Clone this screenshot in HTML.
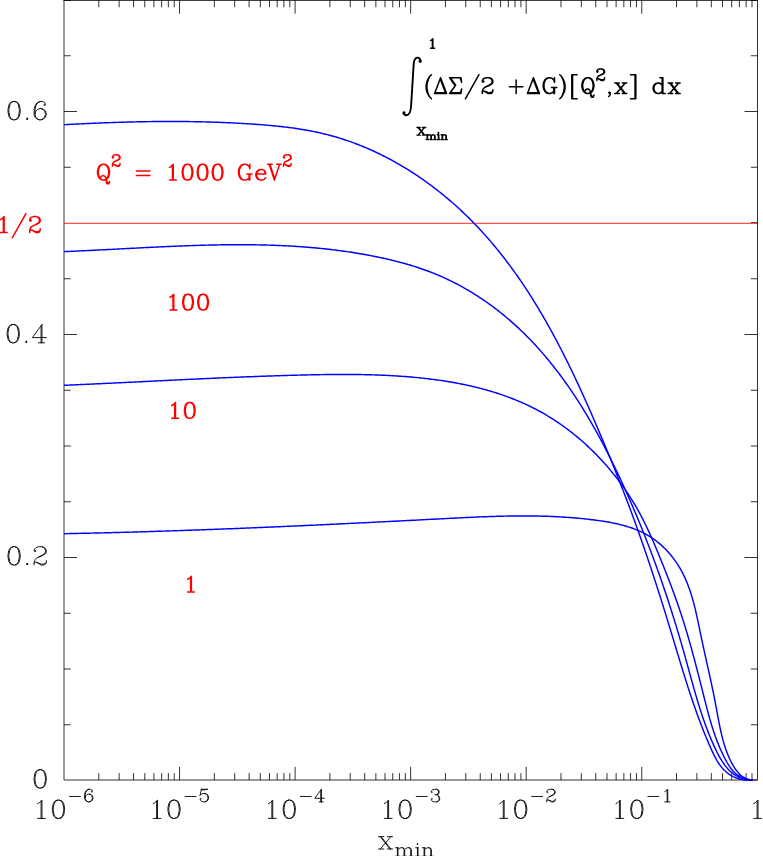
<!DOCTYPE html>
<html><head><meta charset="utf-8"><title>plot</title>
<style>html,body{margin:0;padding:0;background:#fff;font-family:"Liberation Sans",sans-serif}svg{display:block}</style>
</head><body><svg width="763" height="856" viewBox="0 0 763 856">
<rect width="763" height="856" fill="#fff"/>
<path d="M64 0.45V780H757.5V0.45M64 0.45H757.5" fill="none" stroke="#000" stroke-width="0.8" stroke-linecap="square"/>
<path d="M98.78 780v-6.9M98.78 0.45v6.9M119.13 780v-6.9M119.13 0.45v6.9M133.57 780v-6.9M133.57 0.45v6.9M144.77 780v-6.9M144.77 0.45v6.9M153.92 780v-6.9M153.92 0.45v6.9M161.65 780v-6.9M161.65 0.45v6.9M168.35 780v-6.9M168.35 0.45v6.9M174.26 780v-6.9M174.26 0.45v6.9M179.55 780v-13.2M179.55 0.45v13.2M214.33 780v-6.9M214.33 0.45v6.9M234.68 780v-6.9M234.68 0.45v6.9M249.12 780v-6.9M249.12 0.45v6.9M260.32 780v-6.9M260.32 0.45v6.9M269.47 780v-6.9M269.47 0.45v6.9M277.2 780v-6.9M277.2 0.45v6.9M283.9 780v-6.9M283.9 0.45v6.9M289.81 780v-6.9M289.81 0.45v6.9M295.1 780v-13.2M295.1 0.45v13.2M329.88 780v-6.9M329.88 0.45v6.9M350.23 780v-6.9M350.23 0.45v6.9M364.67 780v-6.9M364.67 0.45v6.9M375.87 780v-6.9M375.87 0.45v6.9M385.02 780v-6.9M385.02 0.45v6.9M392.75 780v-6.9M392.75 0.45v6.9M399.45 780v-6.9M399.45 0.45v6.9M405.36 780v-6.9M405.36 0.45v6.9M410.65 780v-13.2M410.65 0.45v13.2M445.43 780v-6.9M445.43 0.45v6.9M465.78 780v-6.9M465.78 0.45v6.9M480.22 780v-6.9M480.22 0.45v6.9M491.42 780v-6.9M491.42 0.45v6.9M500.57 780v-6.9M500.57 0.45v6.9M508.3 780v-6.9M508.3 0.45v6.9M515 780v-6.9M515 0.45v6.9M520.91 780v-6.9M520.91 0.45v6.9M526.2 780v-13.2M526.2 0.45v13.2M560.98 780v-6.9M560.98 0.45v6.9M581.33 780v-6.9M581.33 0.45v6.9M595.77 780v-6.9M595.77 0.45v6.9M606.97 780v-6.9M606.97 0.45v6.9M616.12 780v-6.9M616.12 0.45v6.9M623.85 780v-6.9M623.85 0.45v6.9M630.55 780v-6.9M630.55 0.45v6.9M636.46 780v-6.9M636.46 0.45v6.9M641.75 780v-13.2M641.75 0.45v13.2M676.53 780v-6.9M676.53 0.45v6.9M696.88 780v-6.9M696.88 0.45v6.9M711.32 780v-6.9M711.32 0.45v6.9M722.52 780v-6.9M722.52 0.45v6.9M731.67 780v-6.9M731.67 0.45v6.9M739.4 780v-6.9M739.4 0.45v6.9M746.1 780v-6.9M746.1 0.45v6.9M752.01 780v-6.9M752.01 0.45v6.9M757.5 780h-13M64 724.75h6.7M757.5 724.75h-6.7M64 669h6.7M757.5 669h-6.7M64 613.25h6.7M757.5 613.25h-6.7M64 557.5h13M757.5 557.5h-13M64 501.75h6.7M757.5 501.75h-6.7M64 446h6.7M757.5 446h-6.7M64 390.25h6.7M757.5 390.25h-6.7M64 334.5h13M757.5 334.5h-13M64 278.75h6.7M757.5 278.75h-6.7M757.5 222.65h-6.7M64 167.25h6.7M757.5 167.25h-6.7M64 111.5h13M757.5 111.5h-13M64 55.75h6.7M757.5 55.75h-6.7M64 0.45h6.7M757.5 0.45h-6.7" fill="none" stroke="#000" stroke-width="0.8"/>
<path d="M64 223.3H757.5" stroke="#f00" stroke-width="0.85" fill="none"/>
<path d="M64 124.7 65.51 124.62 67.03 124.54 68.54 124.46 70.06 124.38 71.57 124.3 73.08 124.23 74.59 124.15 76.1 124.08 77.61 124 79.12 123.93 80.63 123.86 82.14 123.78 83.64 123.71 85.15 123.64 86.66 123.57 88.16 123.51 89.67 123.44 91.17 123.37 92.68 123.31 94.18 123.24 95.68 123.18 97.19 123.12 98.69 123.05 100.19 122.99 101.69 122.93 103.19 122.87 104.69 122.82 106.19 122.76 107.69 122.71 109.19 122.65 110.69 122.6 112.19 122.55 113.68 122.49 115.18 122.44 116.68 122.39 118.17 122.35 119.67 122.3 121.17 122.26 122.66 122.21 124.16 122.17 125.65 122.13 127.15 122.08 128.64 122.05 130.13 122.01 131.63 121.97 133.12 121.93 134.62 121.9 136.11 121.87 137.6 121.83 139.09 121.8 140.59 121.77 142.08 121.75 143.57 121.72 145.06 121.69 146.55 121.67 148.05 121.65 149.54 121.63 151.03 121.61 152.52 121.59 154.01 121.57 155.5 121.55 156.99 121.54 158.48 121.53 159.97 121.51 161.46 121.5 162.96 121.5 164.45 121.49 165.94 121.48 167.43 121.48 168.92 121.48 170.41 121.48 171.9 121.48 173.39 121.48 174.88 121.48 176.37 121.49 177.86 121.49 179.35 121.5 180.84 121.51 182.33 121.52 183.82 121.54 185.32 121.55 186.81 121.57 188.3 121.59 189.79 121.61 191.28 121.63 192.77 121.65 194.27 121.68 195.76 121.7 197.25 121.73 198.74 121.76 200.24 121.79 201.73 121.83 203.22 121.86 204.72 121.9 206.21 121.94 207.7 121.98 209.2 122.02 210.69 122.06 212.19 122.11 213.68 122.16 215.18 122.21 216.67 122.26 218.17 122.31 219.66 122.37 221.16 122.43 222.66 122.49 224.16 122.55 225.65 122.61 227.15 122.68 228.65 122.74 230.15 122.81 231.65 122.88 233.15 122.96 234.65 123.03 236.15 123.11 237.65 123.19 239.15 123.27 240.66 123.35 242.16 123.44 243.66 123.52 245.17 123.61 246.67 123.71 248.17 123.8 249.68 123.9 251.19 123.99 252.69 124.09 254.2 124.2 255.71 124.3 257.21 124.41 258.72 124.52 260.23 124.63 261.74 124.75 263.25 124.87 264.75 124.99 266.26 125.12 267.77 125.25 269.28 125.38 270.79 125.52 272.29 125.66 273.8 125.8 275.31 125.95 276.81 126.1 278.32 126.26 279.82 126.42 281.33 126.59 282.83 126.76 284.34 126.93 285.84 127.11 287.34 127.3 288.84 127.49 290.34 127.69 291.84 127.89 293.33 128.09 294.83 128.31 296.32 128.53 297.82 128.75 299.31 128.98 300.8 129.22 302.29 129.46 303.77 129.71 305.26 129.97 306.74 130.23 308.23 130.5 309.71 130.77 311.19 131.06 312.66 131.35 314.14 131.64 315.61 131.95 317.08 132.26 318.55 132.58 320.01 132.91 321.48 133.25 322.94 133.59 324.4 133.94 325.85 134.3 327.31 134.67 328.76 135.05 330.21 135.43 331.65 135.82 333.1 136.22 334.54 136.63 335.98 137.05 337.41 137.48 338.85 137.91 340.28 138.35 341.7 138.8 343.13 139.26 344.55 139.72 345.97 140.19 347.39 140.67 348.8 141.16 350.21 141.66 351.62 142.16 353.03 142.67 354.43 143.19 355.83 143.71 357.23 144.25 358.62 144.79 360.01 145.34 361.4 145.89 362.79 146.46 364.17 147.03 365.55 147.6 366.92 148.19 368.3 148.78 369.67 149.38 371.04 149.99 372.4 150.6 373.76 151.22 375.12 151.85 376.47 152.48 377.82 153.12 379.17 153.77 380.52 154.42 381.86 155.09 383.2 155.75 384.54 156.43 385.87 157.11 387.2 157.8 388.52 158.49 389.85 159.2 391.16 159.9 392.48 160.62 393.79 161.34 395.1 162.07 396.41 162.8 397.71 163.54 399.01 164.29 400.31 165.04 401.6 165.8 402.89 166.57 404.17 167.34 405.45 168.12 406.73 168.9 408.01 169.69 409.28 170.48 410.54 171.29 411.81 172.09 413.07 172.91 414.32 173.73 415.58 174.55 416.83 175.38 418.07 176.22 419.31 177.06 420.55 177.91 421.79 178.76 423.02 179.62 424.24 180.49 425.47 181.36 426.69 182.23 427.9 183.11 429.11 184 430.32 184.89 431.53 185.79 432.73 186.69 433.92 187.6 435.11 188.51 436.3 189.43 437.49 190.36 438.67 191.28 439.84 192.22 441.02 193.16 442.19 194.1 443.35 195.05 444.51 196 445.67 196.96 446.82 197.92 447.97 198.89 449.11 199.86 450.25 200.84 451.39 201.82 452.52 202.81 453.64 203.8 454.77 204.8 455.89 205.8 457 206.8 458.11 207.81 459.22 208.82 460.32 209.84 461.42 210.87 462.51 211.89 463.6 212.92 464.68 213.96 465.76 215 466.84 216.04 467.91 217.09 468.97 218.14 470.04 219.2 471.09 220.26 472.15 221.32 473.2 222.39 474.24 223.46 475.28 224.53 476.31 225.61 477.34 226.7 478.37 227.78 479.39 228.87 480.41 229.97 481.42 231.07 482.43 232.17 483.43 233.27 484.43 234.38 485.43 235.49 486.42 236.61 487.41 237.73 488.39 238.85 489.37 239.98 490.34 241.11 491.31 242.24 492.28 243.38 493.24 244.52 494.2 245.66 495.15 246.81 496.1 247.96 497.05 249.12 497.99 250.27 498.92 251.43 499.86 252.6 500.79 253.77 501.71 254.94 502.63 256.11 503.55 257.29 504.47 258.46 505.38 259.65 506.28 260.83 507.18 262.02 508.08 263.21 508.98 264.41 509.87 265.61 510.75 266.81 511.64 268.01 512.52 269.22 513.39 270.43 514.26 271.64 515.13 272.85 516 274.07 516.86 275.29 517.72 276.52 518.57 277.74 519.42 278.97 520.27 280.2 521.11 281.44 521.95 282.68 522.79 283.92 523.62 285.16 524.45 286.4 525.28 287.65 526.1 288.9 526.92 290.15 527.74 291.41 528.55 292.66 529.36 293.92 530.17 295.19 530.97 296.45 531.78 297.72 532.57 298.99 533.37 300.26 534.16 301.53 534.95 302.81 535.73 304.08 536.51 305.36 537.29 306.65 538.07 307.93 538.84 309.22 539.61 310.51 540.37 311.8 541.14 313.09 541.9 314.39 542.66 315.68 543.41 316.98 544.16 318.28 544.91 319.59 545.66 320.89 546.4 322.2 547.14 323.51 547.88 324.82 548.62 326.13 549.35 327.44 550.08 328.76 550.81 330.08 551.53 331.4 552.25 332.72 552.97 334.04 553.69 335.37 554.4 336.69 555.12 338.02 555.82 339.35 556.53 340.68 557.24 342.01 557.94 343.34 558.64 344.68 559.33 346.02 560.03 347.35 560.72 348.69 561.41 350.03 562.1 351.38 562.78 352.72 563.47 354.07 564.15 355.41 564.82 356.76 565.5 358.11 566.17 359.46 566.85 360.81 567.52 362.16 568.18 363.51 568.85 364.87 569.51 366.22 570.17 367.58 570.83 368.94 571.49 370.3 572.14 371.66 572.8 373.02 573.45 374.38 574.1 375.74 574.74 377.1 575.39 378.47 576.03 379.83 576.67 381.2 577.31 382.57 577.95 383.93 578.59 385.3 579.22 386.67 579.85 388.04 580.49 389.41 581.11 390.78 581.74 392.15 582.37 393.53 582.99 394.9 583.61 396.27 584.24 397.65 584.85 399.02 585.47 400.39 586.09 401.77 586.7 403.15 587.32 404.52 587.93 405.9 588.54 407.28 589.15 408.65 589.75 410.03 590.36 411.41 590.97 412.79 591.57 414.16 592.17 415.54 592.77 416.92 593.37 418.3 593.97 419.68 594.57 421.06 595.16 422.44 595.76 423.82 596.35 425.2 596.94 426.58 597.53 427.96 598.12 429.34 598.71 430.71 599.3 432.09 599.89 433.47 600.47 434.85 601.06 436.23 601.64 437.61 602.22 438.99 602.8 440.37 603.38 441.75 603.96 443.13 604.54 444.51 605.12 445.89 605.69 447.27 606.27 448.65 606.84 450.02 607.41 451.4 607.98 452.78 608.55 454.16 609.12 455.54 609.69 456.93 610.26 458.31 610.82 459.69 611.39 461.07 611.95 462.45 612.51 463.83 613.07 465.21 613.63 466.59 614.19 467.98 614.75 469.36 615.3 470.74 615.86 472.13 616.41 473.51 616.97 474.89 617.52 476.28 618.07 477.66 618.62 479.05 619.17 480.43 619.71 481.82 620.26 483.2 620.8 484.59 621.35 485.98 621.89 487.37 622.43 488.75 622.97 490.14 623.51 491.53 624.04 492.92 624.58 494.31 625.11 495.7 625.65 497.09 626.18 498.49 626.71 499.88 627.24 501.27 627.77 502.67 628.3 504.06 628.82 505.46 629.35 506.85 629.87 508.25 630.39 509.64 630.91 511.04 631.43 512.44 631.95 513.84 632.47 515.24 632.98 516.64 633.5 518.04 634.01 519.44 634.52 520.85 635.03 522.25 635.54 523.66 636.05 525.06 636.56 526.47 637.06 527.88 637.57 529.28 638.07 530.69 638.57 532.1 639.07 533.51 639.57 534.92 640.07 536.33 640.57 537.75 641.06 539.16 641.56 540.57 642.05 541.99 642.54 543.4 643.03 544.82 643.52 546.24 644.01 547.65 644.5 549.07 644.98 550.49 645.47 551.91 645.95 553.33 646.44 554.75 646.92 556.17 647.4 557.59 647.88 559.02 648.36 560.44 648.83 561.86 649.31 563.29 649.79 564.71 650.26 566.14 650.73 567.56 651.21 568.99 651.68 570.42 652.15 571.84 652.62 573.27 653.09 574.7 653.55 576.13 654.02 577.56 654.49 578.99 654.95 580.42 655.41 581.85 655.88 583.28 656.34 584.71 656.8 586.14 657.26 587.57 657.72 589.01 658.18 590.44 658.64 591.87 659.09 593.31 659.55 594.74 660 596.18 660.46 597.61 660.91 599.04 661.36 600.48 661.82 601.92 662.27 603.35 662.72 604.79 663.17 606.22 663.61 607.66 664.06 609.1 664.51 610.54 664.96 611.97 665.4 613.41 665.85 614.85 666.29 616.29 666.74 617.72 667.18 619.16 667.62 620.6 668.06 622.04 668.5 623.48 668.94 624.92 669.38 626.36 669.82 627.8 670.26 629.24 670.7 630.68 671.14 632.11 671.57 633.55 672.01 634.99 672.44 636.43 672.88 637.87 673.31 639.31 673.75 640.75 674.18 642.19 674.61 643.63 675.05 645.07 675.48 646.51 675.91 647.95 676.35 649.39 676.78 650.83 677.21 652.27 677.65 653.71 678.08 655.15 678.52 656.59 678.95 658.02 679.39 659.46 679.82 660.9 680.26 662.34 680.7 663.77 681.13 665.21 681.57 666.65 682.01 668.08 682.45 669.52 682.9 670.95 683.34 672.39 683.78 673.82 684.23 675.25 684.68 676.69 685.12 678.12 685.57 679.55 686.03 680.98 686.48 682.41 686.93 683.84 687.39 685.27 687.85 686.7 688.31 688.13 688.77 689.55 689.24 690.98 689.7 692.41 690.17 693.83 690.64 695.25 691.12 696.68 691.59 698.1 692.07 699.52 692.55 700.94 693.04 702.36 693.52 703.78 694.01 705.2 694.5 706.61 695 708.03 695.5 709.44 696 710.85 696.5 712.27 697.01 713.68 697.52 715.09 698.03 716.5 698.55 717.9 699.07 719.31 699.6 720.71 700.12 722.12 700.66 723.52 701.19 724.92 701.73 726.32 702.27 727.72 702.82 729.12 703.37 730.51 703.93 731.91 704.49 733.3 705.05 734.69 705.62 736.08 706.19 737.47 706.77 738.86 707.35 740.24 707.94 741.63 708.53 743.01 709.13 744.39 709.73 745.77 710.33 747.15 710.94 748.52 711.56 749.9 712.18 751.27 712.82 752.63 713.47 753.98 714.13 755.32 714.81 756.64 715.5 757.95 716.22 759.25 716.95 760.52 717.71 761.77 718.5 763 719.31 764.21 720.15 765.38 721.02 766.53 721.93 767.64 722.87 768.72 723.85 769.77 724.87 770.77 725.92 771.74 727.02 772.66 728.17 773.54 729.36 774.38 730.59 775.16 731.86 775.9 733.17 776.58 734.52 777.21 735.91 777.78 737.32 778.29 738.77 778.75 740.24 779.14 741.74 779.46 743.27 779.72 744.81 779.91 746.38 780.03 747.97 780.08 749.57 780.05 751.18 779.94 752.5 779.8" fill="none" stroke="#00f" stroke-width="1.45" stroke-linejoin="round"/>
<path d="M64 251.6 65.48 251.54 66.97 251.48 68.45 251.42 69.94 251.36 71.43 251.3 72.91 251.23 74.4 251.17 75.89 251.1 77.38 251.04 78.86 250.97 80.35 250.9 81.84 250.84 83.33 250.77 84.82 250.7 86.31 250.63 87.8 250.56 89.29 250.48 90.79 250.41 92.28 250.34 93.77 250.26 95.26 250.19 96.76 250.12 98.25 250.04 99.74 249.97 101.24 249.89 102.73 249.81 104.23 249.74 105.72 249.66 107.22 249.58 108.71 249.51 110.21 249.43 111.7 249.35 113.2 249.27 114.7 249.2 116.2 249.12 117.69 249.04 119.19 248.96 120.69 248.88 122.19 248.8 123.69 248.72 125.18 248.65 126.68 248.57 128.18 248.49 129.68 248.41 131.18 248.33 132.68 248.25 134.18 248.18 135.68 248.1 137.18 248.02 138.68 247.94 140.18 247.87 141.69 247.79 143.19 247.71 144.69 247.64 146.19 247.56 147.69 247.49 149.2 247.41 150.7 247.34 152.2 247.26 153.7 247.19 155.21 247.12 156.71 247.04 158.21 246.97 159.71 246.9 161.22 246.83 162.72 246.76 164.23 246.69 165.73 246.62 167.23 246.55 168.74 246.49 170.24 246.42 171.75 246.36 173.25 246.29 174.75 246.23 176.26 246.17 177.76 246.1 179.27 246.04 180.77 245.98 182.28 245.93 183.78 245.87 185.29 245.81 186.79 245.76 188.3 245.7 189.8 245.65 191.31 245.6 192.81 245.55 194.32 245.5 195.82 245.45 197.33 245.4 198.83 245.35 200.34 245.31 201.84 245.27 203.35 245.22 204.85 245.18 206.36 245.15 207.86 245.11 209.37 245.07 210.87 245.04 212.38 245 213.88 244.97 215.38 244.94 216.89 244.92 218.39 244.89 219.9 244.86 221.4 244.84 222.91 244.82 224.41 244.8 225.92 244.78 227.42 244.77 228.92 244.75 230.43 244.74 231.93 244.73 233.44 244.72 234.94 244.71 236.44 244.71 237.95 244.71 239.45 244.7 240.95 244.71 242.45 244.71 243.96 244.71 245.46 244.72 246.96 244.73 248.46 244.74 249.97 244.76 251.47 244.77 252.97 244.79 254.47 244.81 255.97 244.84 257.47 244.86 258.97 244.89 260.48 244.92 261.98 244.95 263.48 244.99 264.98 245.03 266.48 245.07 267.98 245.11 269.47 245.15 270.97 245.2 272.47 245.25 273.97 245.3 275.47 245.36 276.97 245.42 278.47 245.48 279.96 245.54 281.46 245.61 282.96 245.68 284.45 245.75 285.95 245.82 287.45 245.9 288.94 245.98 290.44 246.06 291.93 246.15 293.43 246.24 294.92 246.33 296.42 246.43 297.91 246.53 299.4 246.63 300.9 246.73 302.39 246.84 303.88 246.95 305.37 247.06 306.86 247.18 308.36 247.3 309.85 247.42 311.34 247.55 312.83 247.68 314.32 247.81 315.81 247.95 317.29 248.09 318.78 248.23 320.27 248.38 321.76 248.53 323.25 248.69 324.73 248.84 326.22 249 327.7 249.17 329.19 249.34 330.67 249.51 332.16 249.68 333.64 249.86 335.13 250.05 336.61 250.23 338.09 250.42 339.57 250.62 341.06 250.81 342.54 251.02 344.02 251.22 345.5 251.43 346.98 251.64 348.46 251.86 349.94 252.08 351.41 252.31 352.89 252.54 354.37 252.77 355.84 253.01 357.32 253.25 358.8 253.49 360.27 253.74 361.75 254 363.22 254.26 364.69 254.52 366.16 254.78 367.64 255.05 369.11 255.33 370.58 255.61 372.05 255.89 373.52 256.18 374.99 256.47 376.46 256.77 377.92 257.07 379.39 257.38 380.86 257.69 382.32 258 383.79 258.33 385.25 258.65 386.71 258.98 388.17 259.32 389.63 259.66 391.09 260.01 392.55 260.36 394.01 260.72 395.46 261.08 396.91 261.45 398.37 261.83 399.82 262.21 401.27 262.6 402.71 262.99 404.16 263.39 405.6 263.8 407.04 264.21 408.48 264.63 409.92 265.06 411.36 265.49 412.79 265.93 414.23 266.38 415.66 266.83 417.08 267.3 418.51 267.76 419.93 268.24 421.35 268.73 422.77 269.22 424.19 269.72 425.6 270.22 427.01 270.74 428.42 271.26 429.82 271.79 431.23 272.33 432.63 272.88 434.02 273.44 435.42 274 436.81 274.57 438.2 275.15 439.58 275.75 440.96 276.34 442.34 276.95 443.72 277.57 445.09 278.2 446.46 278.83 447.82 279.47 449.18 280.12 450.54 280.78 451.9 281.45 453.25 282.13 454.6 282.81 455.94 283.51 457.28 284.21 458.61 284.92 459.95 285.63 461.27 286.36 462.6 287.09 463.92 287.83 465.23 288.58 466.54 289.33 467.85 290.09 469.15 290.86 470.45 291.64 471.74 292.43 473.03 293.22 474.32 294.02 475.6 294.82 476.87 295.63 478.15 296.45 479.41 297.28 480.67 298.11 481.93 298.95 483.18 299.8 484.43 300.65 485.67 301.51 486.9 302.37 488.13 303.24 489.36 304.12 490.58 305 491.8 305.89 493 306.79 494.21 307.69 495.41 308.6 496.6 309.51 497.79 310.43 498.97 311.35 500.15 312.28 501.32 313.21 502.48 314.16 503.64 315.1 504.8 316.05 505.95 317.01 507.09 317.97 508.23 318.94 509.36 319.91 510.49 320.89 511.62 321.87 512.73 322.86 513.84 323.86 514.95 324.85 516.05 325.86 517.15 326.87 518.24 327.88 519.33 328.9 520.41 329.92 521.49 330.95 522.56 331.99 523.62 333.03 524.68 334.07 525.74 335.12 526.79 336.17 527.84 337.23 528.88 338.29 529.92 339.36 530.95 340.43 531.98 341.51 533 342.59 534.01 343.67 535.03 344.76 536.03 345.85 537.04 346.95 538.04 348.06 539.03 349.16 540.02 350.27 541 351.39 541.98 352.51 542.96 353.63 543.93 354.76 544.89 355.89 545.86 357.03 546.81 358.17 547.77 359.32 548.71 360.46 549.66 361.62 550.6 362.77 551.53 363.93 552.46 365.1 553.39 366.26 554.31 367.44 555.23 368.61 556.14 369.79 557.05 370.97 557.96 372.16 558.86 373.35 559.75 374.54 560.65 375.74 561.53 376.94 562.42 378.14 563.3 379.35 564.18 380.56 565.05 381.77 565.92 382.99 566.78 384.21 567.64 385.43 568.5 386.66 569.35 387.89 570.2 389.12 571.04 390.36 571.88 391.6 572.72 392.84 573.55 394.09 574.38 395.33 575.21 396.58 576.03 397.84 576.85 399.1 577.66 400.36 578.47 401.62 579.28 402.88 580.08 404.15 580.88 405.42 581.68 406.69 582.47 407.97 583.26 409.25 584.05 410.53 584.83 411.81 585.61 413.1 586.39 414.39 587.16 415.68 587.93 416.97 588.69 418.26 589.46 419.56 590.21 420.86 590.97 422.16 591.72 423.47 592.47 424.77 593.22 426.08 593.96 427.39 594.7 428.7 595.44 430.02 596.17 431.33 596.9 432.65 597.63 433.97 598.35 435.3 599.07 436.62 599.79 437.94 600.5 439.27 601.22 440.6 601.93 441.93 602.63 443.26 603.34 444.6 604.04 445.93 604.73 447.27 605.43 448.61 606.12 449.95 606.81 451.29 607.5 452.63 608.18 453.98 608.86 455.32 609.54 456.67 610.22 458.02 610.89 459.37 611.56 460.72 612.23 462.07 612.89 463.42 613.56 464.78 614.22 466.13 614.87 467.49 615.53 468.85 616.18 470.2 616.83 471.56 617.48 472.92 618.13 474.28 618.77 475.65 619.41 477.01 620.05 478.37 620.68 479.73 621.32 481.1 621.95 482.46 622.58 483.83 623.21 485.19 623.83 486.56 624.46 487.93 625.08 489.3 625.7 490.66 626.31 492.03 626.93 493.4 627.54 494.77 628.15 496.14 628.76 497.52 629.36 498.89 629.97 500.26 630.57 501.63 631.17 503.01 631.76 504.38 632.36 505.76 632.95 507.13 633.54 508.51 634.13 509.89 634.72 511.27 635.3 512.64 635.88 514.02 636.47 515.4 637.04 516.78 637.62 518.17 638.19 519.55 638.77 520.93 639.34 522.31 639.9 523.7 640.47 525.08 641.03 526.47 641.6 527.85 642.16 529.24 642.71 530.62 643.27 532.01 643.82 533.4 644.38 534.79 644.93 536.18 645.48 537.57 646.02 538.96 646.57 540.35 647.11 541.74 647.65 543.14 648.19 544.53 648.72 545.92 649.26 547.32 649.79 548.71 650.32 550.11 650.85 551.51 651.38 552.9 651.9 554.3 652.43 555.7 652.95 557.1 653.47 558.5 653.98 559.9 654.5 561.3 655.01 562.71 655.52 564.11 656.04 565.51 656.54 566.92 657.05 568.32 657.55 569.73 658.06 571.14 658.56 572.54 659.06 573.95 659.56 575.36 660.05 576.77 660.55 578.18 661.04 579.59 661.53 581 662.02 582.41 662.5 583.83 662.99 585.24 663.47 586.66 663.95 588.07 664.43 589.49 664.91 590.9 665.39 592.32 665.86 593.74 666.34 595.16 666.81 596.58 667.28 598 667.75 599.42 668.21 600.84 668.68 602.26 669.14 603.68 669.6 605.11 670.06 606.53 670.52 607.96 670.98 609.38 671.43 610.81 671.88 612.24 672.33 613.67 672.78 615.1 673.23 616.53 673.68 617.96 674.13 619.39 674.57 620.82 675.01 622.25 675.45 623.69 675.89 625.12 676.33 626.56 676.76 627.99 677.2 629.43 677.63 630.87 678.06 632.3 678.49 633.74 678.92 635.18 679.35 636.62 679.77 638.07 680.19 639.51 680.62 640.95 681.04 642.39 681.46 643.84 681.87 645.28 682.29 646.73 682.71 648.18 683.12 649.62 683.53 651.07 683.94 652.52 684.35 653.97 684.76 655.42 685.16 656.87 685.57 658.33 685.97 659.78 686.37 661.23 686.78 662.69 687.18 664.14 687.58 665.6 687.98 667.05 688.38 668.51 688.78 669.97 689.17 671.42 689.57 672.88 689.97 674.34 690.37 675.79 690.77 677.25 691.18 678.7 691.58 680.16 691.98 681.62 692.39 683.07 692.79 684.53 693.2 685.98 693.61 687.44 694.02 688.89 694.44 690.34 694.86 691.8 695.27 693.25 695.7 694.7 696.12 696.15 696.55 697.6 696.98 699.04 697.41 700.49 697.85 701.93 698.29 703.38 698.73 704.82 699.18 706.26 699.63 707.7 700.09 709.14 700.55 710.57 701.01 712.01 701.48 713.44 701.96 714.87 702.44 716.3 702.92 717.73 703.41 719.15 703.91 720.58 704.41 722 704.92 723.42 705.43 724.83 705.95 726.25 706.48 727.66 707.01 729.07 707.55 730.47 708.09 731.88 708.65 733.28 709.21 734.68 709.77 736.07 710.35 737.46 710.93 738.85 711.52 740.24 712.12 741.62 712.72 743 713.34 744.38 713.96 745.75 714.59 747.12 715.23 748.49 715.88 749.85 716.54 751.21 717.21 752.56 717.9 753.89 718.59 755.22 719.31 756.53 720.04 757.83 720.78 759.1 721.55 760.36 722.33 761.6 723.14 762.81 723.97 764 724.82 765.16 725.69 766.29 726.6 767.39 727.52 768.45 728.48 769.48 729.46 770.48 730.48 771.43 731.52 772.34 732.6 773.21 733.71 774.04 734.86 774.82 736.04 775.55 737.26 776.23 738.52 776.85 739.81 777.42 741.15 777.94 742.53 778.39 743.95 778.79 745.41 779.13 746.93 779.39 748.48 779.6 750.09 779.73 751.74 779.8 752.5 779.81" fill="none" stroke="#00f" stroke-width="1.45" stroke-linejoin="round"/>
<path d="M64 385.3 65.5 385.24 67 385.17 68.51 385.11 70.01 385.04 71.51 384.98 73.01 384.91 74.51 384.85 76.01 384.78 77.51 384.71 79.01 384.65 80.52 384.58 82.02 384.51 83.52 384.45 85.02 384.38 86.52 384.31 88.02 384.24 89.52 384.17 91.02 384.1 92.52 384.04 94.02 383.97 95.52 383.9 97.02 383.83 98.52 383.76 100.02 383.69 101.52 383.62 103.02 383.55 104.52 383.47 106.02 383.4 107.52 383.33 109.02 383.26 110.52 383.19 112.02 383.12 113.52 383.05 115.02 382.97 116.52 382.9 118.02 382.83 119.52 382.76 121.02 382.68 122.52 382.61 124.02 382.54 125.52 382.47 127.02 382.39 128.52 382.32 130.01 382.25 131.51 382.17 133.01 382.1 134.51 382.03 136.01 381.95 137.51 381.88 139.01 381.81 140.51 381.73 142 381.66 143.5 381.59 145 381.51 146.5 381.44 148 381.37 149.5 381.29 151 381.22 152.49 381.14 153.99 381.07 155.49 381 156.99 380.92 158.49 380.85 159.99 380.78 161.48 380.7 162.98 380.63 164.48 380.56 165.98 380.48 167.48 380.41 168.97 380.34 170.47 380.27 171.97 380.19 173.47 380.12 174.96 380.05 176.46 379.98 177.96 379.9 179.46 379.83 180.96 379.76 182.45 379.69 183.95 379.62 185.45 379.54 186.95 379.47 188.44 379.4 189.94 379.33 191.44 379.26 192.94 379.19 194.43 379.12 195.93 379.05 197.43 378.98 198.93 378.91 200.42 378.84 201.92 378.77 203.42 378.7 204.91 378.63 206.41 378.57 207.91 378.5 209.41 378.43 210.9 378.36 212.4 378.29 213.9 378.23 215.4 378.16 216.89 378.09 218.39 378.03 219.89 377.96 221.38 377.9 222.88 377.83 224.38 377.77 225.87 377.7 227.37 377.64 228.87 377.57 230.37 377.51 231.86 377.45 233.36 377.39 234.86 377.32 236.35 377.26 237.85 377.2 239.35 377.14 240.84 377.08 242.34 377.02 243.84 376.96 245.34 376.9 246.83 376.84 248.33 376.78 249.83 376.72 251.32 376.67 252.82 376.61 254.32 376.55 255.81 376.5 257.31 376.44 258.81 376.39 260.31 376.33 261.8 376.28 263.3 376.22 264.8 376.17 266.29 376.12 267.79 376.07 269.29 376.01 270.78 375.96 272.28 375.91 273.78 375.86 275.28 375.81 276.77 375.77 278.27 375.72 279.77 375.67 281.26 375.62 282.76 375.58 284.26 375.53 285.76 375.49 287.25 375.44 288.75 375.4 290.25 375.35 291.74 375.31 293.24 375.27 294.74 375.23 296.24 375.19 297.73 375.15 299.23 375.11 300.73 375.07 302.22 375.03 303.72 375 305.22 374.96 306.72 374.92 308.21 374.89 309.71 374.86 311.21 374.82 312.71 374.79 314.2 374.76 315.7 374.73 317.2 374.7 318.7 374.68 320.19 374.65 321.69 374.63 323.19 374.6 324.69 374.58 326.19 374.56 327.68 374.54 329.18 374.52 330.68 374.51 332.18 374.49 333.67 374.48 335.17 374.47 336.67 374.46 338.17 374.45 339.67 374.44 341.16 374.44 342.66 374.44 344.16 374.44 345.66 374.44 347.16 374.44 348.66 374.45 350.15 374.46 351.65 374.47 353.15 374.48 354.65 374.49 356.15 374.51 357.65 374.53 359.14 374.55 360.64 374.57 362.14 374.6 363.64 374.62 365.14 374.66 366.64 374.69 368.14 374.72 369.64 374.76 371.13 374.8 372.63 374.85 374.13 374.9 375.63 374.95 377.13 375 378.63 375.05 380.13 375.11 381.63 375.17 383.13 375.24 384.63 375.3 386.13 375.37 387.63 375.45 389.13 375.53 390.63 375.61 392.13 375.69 393.63 375.78 395.13 375.87 396.63 375.96 398.13 376.06 399.63 376.16 401.13 376.26 402.63 376.37 404.13 376.48 405.63 376.59 407.13 376.71 408.63 376.84 410.13 376.96 411.63 377.09 413.13 377.23 414.63 377.36 416.13 377.5 417.63 377.65 419.13 377.8 420.63 377.95 422.13 378.11 423.63 378.28 425.13 378.44 426.63 378.61 428.13 378.79 429.63 378.97 431.12 379.16 432.62 379.35 434.12 379.54 435.61 379.74 437.11 379.94 438.6 380.15 440.1 380.37 441.59 380.59 443.08 380.81 444.57 381.04 446.06 381.27 447.55 381.51 449.04 381.76 450.52 382.01 452.01 382.27 453.49 382.53 454.97 382.79 456.46 383.07 457.93 383.35 459.41 383.63 460.89 383.92 462.37 384.22 463.84 384.52 465.31 384.83 466.78 385.14 468.25 385.46 469.72 385.78 471.18 386.12 472.64 386.46 474.1 386.8 475.56 387.15 477.02 387.51 478.47 387.87 479.93 388.25 481.38 388.62 482.83 389.01 484.27 389.4 485.72 389.8 487.16 390.2 488.59 390.61 490.03 391.03 491.46 391.46 492.9 391.89 494.32 392.33 495.75 392.78 497.17 393.23 498.59 393.7 500.01 394.16 501.42 394.64 502.83 395.13 504.24 395.62 505.65 396.12 507.05 396.63 508.45 397.14 509.84 397.67 511.24 398.2 512.63 398.74 514.01 399.28 515.39 399.84 516.77 400.4 518.15 400.97 519.52 401.55 520.89 402.14 522.25 402.74 523.61 403.34 524.97 403.96 526.33 404.58 527.67 405.21 529.02 405.85 530.36 406.5 531.7 407.16 533.03 407.82 534.36 408.5 535.69 409.18 537.01 409.88 538.33 410.58 539.64 411.29 540.95 412.01 542.25 412.74 543.55 413.48 544.85 414.23 546.14 414.98 547.42 415.75 548.7 416.52 549.98 417.31 551.25 418.1 552.52 418.9 553.78 419.71 555.04 420.53 556.29 421.36 557.54 422.19 558.79 423.03 560.02 423.89 561.26 424.75 562.49 425.61 563.71 426.49 564.93 427.37 566.14 428.27 567.35 429.17 568.55 430.07 569.75 430.99 570.94 431.91 572.13 432.84 573.31 433.78 574.48 434.73 575.65 435.68 576.82 436.64 577.98 437.61 579.13 438.58 580.28 439.56 581.42 440.55 582.56 441.55 583.69 442.55 584.82 443.56 585.93 444.58 587.05 445.6 588.16 446.63 589.26 447.67 590.35 448.71 591.44 449.76 592.53 450.82 593.6 451.88 594.67 452.95 595.74 454.02 596.8 455.1 597.85 456.19 598.9 457.28 599.94 458.38 600.97 459.49 602 460.6 603.02 461.71 604.03 462.83 605.04 463.96 606.04 465.09 607.03 466.23 608.02 467.38 609 468.53 609.98 469.68 610.94 470.84 611.9 472.01 612.86 473.17 613.8 474.35 614.74 475.53 615.68 476.71 616.6 477.9 617.52 479.1 618.43 480.3 619.34 481.5 620.23 482.71 621.12 483.92 622.01 485.14 622.88 486.36 623.75 487.58 624.61 488.81 625.46 490.05 626.31 491.28 627.15 492.53 627.98 493.77 628.8 495.02 629.61 496.28 630.42 497.53 631.22 498.79 632.01 500.06 632.8 501.33 633.58 502.6 634.34 503.87 635.1 505.15 635.86 506.43 636.6 507.72 637.34 509 638.07 510.29 638.79 511.59 639.5 512.88 640.2 514.18 640.9 515.49 641.59 516.79 642.27 518.1 642.94 519.41 643.61 520.72 644.27 522.04 644.92 523.36 645.56 524.68 646.2 526 646.84 527.33 647.47 528.66 648.09 529.99 648.71 531.32 649.32 532.66 649.93 534 650.53 535.34 651.13 536.69 651.72 538.03 652.32 539.38 652.9 540.73 653.49 542.08 654.07 543.44 654.65 544.8 655.22 546.16 655.8 547.52 656.37 548.89 656.94 550.25 657.51 551.62 658.08 552.99 658.64 554.36 659.21 555.74 659.77 557.12 660.34 558.5 660.9 559.88 661.46 561.26 662.02 562.65 662.58 564.03 663.14 565.42 663.7 566.81 664.25 568.2 664.81 569.6 665.36 570.99 665.91 572.39 666.46 573.79 667.01 575.19 667.56 576.6 668.1 578 668.65 579.41 669.19 580.82 669.73 582.23 670.26 583.64 670.8 585.05 671.33 586.46 671.86 587.88 672.39 589.3 672.92 590.71 673.44 592.13 673.96 593.56 674.48 594.98 674.99 596.4 675.51 597.83 676.01 599.25 676.52 600.68 677.02 602.11 677.52 603.54 678.02 604.97 678.52 606.41 679.01 607.84 679.49 609.27 679.98 610.71 680.46 612.15 680.93 613.58 681.41 615.02 681.88 616.46 682.34 617.91 682.8 619.35 683.26 620.79 683.72 622.23 684.17 623.68 684.62 625.12 685.06 626.57 685.5 628.02 685.94 629.46 686.38 630.91 686.81 632.36 687.24 633.81 687.67 635.26 688.09 636.71 688.51 638.17 688.93 639.62 689.34 641.07 689.76 642.52 690.17 643.98 690.58 645.43 690.98 646.89 691.39 648.34 691.79 649.8 692.19 651.26 692.59 652.71 692.98 654.17 693.38 655.63 693.77 657.08 694.16 658.54 694.54 660 694.93 661.46 695.32 662.91 695.7 664.37 696.08 665.83 696.46 667.29 696.84 668.75 697.22 670.21 697.6 671.67 697.97 673.13 698.35 674.58 698.72 676.04 699.09 677.5 699.46 678.96 699.83 680.42 700.2 681.88 700.57 683.34 700.94 684.79 701.31 686.25 701.68 687.71 702.05 689.17 702.41 690.62 702.78 692.08 703.15 693.54 703.51 694.99 703.88 696.45 704.25 697.9 704.61 699.36 704.98 700.81 705.35 702.26 705.72 703.72 706.09 705.17 706.47 706.62 706.85 708.07 707.23 709.51 707.61 710.96 708 712.4 708.39 713.85 708.78 715.29 709.18 716.73 709.59 718.16 710 719.6 710.41 721.03 710.83 722.46 711.26 723.89 711.69 725.32 712.13 726.74 712.58 728.16 713.04 729.58 713.5 731 713.97 732.41 714.45 733.82 714.94 735.22 715.44 736.63 715.95 738.03 716.47 739.42 716.99 740.82 717.53 742.2 718.08 743.59 718.64 744.97 719.21 746.35 719.8 747.72 720.39 749.09 721 750.45 721.62 751.81 722.26 753.17 722.9 754.52 723.57 755.87 724.24 757.21 724.93 758.54 725.64 759.87 726.36 761.19 727.1 762.5 727.87 763.79 728.66 765.05 729.47 766.29 730.31 767.51 731.18 768.68 732.08 769.82 733.02 770.92 733.98 771.97 734.99 772.98 736.04 773.93 737.13 774.82 738.26 775.66 739.43 776.43 740.66 777.13 741.93 777.76 743.25 778.31 744.63 778.78 746.06 779.17 747.56 779.47 749.1 779.68 750.72 779.79 752.39 779.81 752.5 779.8" fill="none" stroke="#00f" stroke-width="1.45" stroke-linejoin="round"/>
<path d="M64 533.7 65.5 533.67 67 533.64 68.5 533.61 70 533.58 71.5 533.55 73 533.52 74.5 533.49 76 533.46 77.5 533.43 79 533.4 80.5 533.37 82 533.34 83.5 533.3 85 533.27 86.5 533.24 88 533.2 89.5 533.17 91 533.14 92.5 533.1 94 533.07 95.5 533.03 97 533 98.5 532.96 100 532.93 101.5 532.89 103 532.85 104.5 532.82 106 532.78 107.5 532.74 109 532.7 110.5 532.67 112 532.63 113.5 532.59 115 532.55 116.5 532.51 118 532.47 119.5 532.43 121 532.39 122.5 532.35 124 532.31 125.5 532.27 127 532.23 128.5 532.18 130 532.14 131.5 532.1 132.99 532.06 134.49 532.01 135.99 531.97 137.49 531.93 138.99 531.88 140.49 531.84 141.99 531.8 143.49 531.75 144.99 531.71 146.49 531.66 147.99 531.62 149.49 531.57 150.99 531.52 152.49 531.48 153.99 531.43 155.49 531.38 156.98 531.34 158.48 531.29 159.98 531.24 161.48 531.19 162.98 531.15 164.48 531.1 165.98 531.05 167.48 531 168.98 530.95 170.48 530.9 171.98 530.85 173.47 530.8 174.97 530.75 176.47 530.7 177.97 530.65 179.47 530.6 180.97 530.55 182.47 530.5 183.97 530.45 185.47 530.39 186.97 530.34 188.46 530.29 189.96 530.24 191.46 530.18 192.96 530.13 194.46 530.08 195.96 530.02 197.46 529.97 198.96 529.91 200.46 529.86 201.95 529.8 203.45 529.75 204.95 529.69 206.45 529.64 207.95 529.58 209.45 529.53 210.95 529.47 212.45 529.42 213.95 529.36 215.44 529.3 216.94 529.25 218.44 529.19 219.94 529.13 221.44 529.07 222.94 529.01 224.44 528.96 225.93 528.9 227.43 528.84 228.93 528.78 230.43 528.72 231.93 528.66 233.43 528.6 234.93 528.54 236.43 528.48 237.92 528.42 239.42 528.36 240.92 528.3 242.42 528.24 243.92 528.18 245.42 528.12 246.91 528.06 248.41 528 249.91 527.94 251.41 527.87 252.91 527.81 254.41 527.75 255.91 527.69 257.4 527.62 258.9 527.56 260.4 527.5 261.9 527.44 263.4 527.37 264.9 527.31 266.4 527.24 267.89 527.18 269.39 527.12 270.89 527.05 272.39 526.99 273.89 526.92 275.39 526.86 276.88 526.79 278.38 526.73 279.88 526.66 281.38 526.6 282.88 526.53 284.38 526.46 285.87 526.4 287.37 526.33 288.87 526.26 290.37 526.2 291.87 526.13 293.37 526.06 294.86 526 296.36 525.93 297.86 525.86 299.36 525.79 300.86 525.73 302.36 525.66 303.85 525.59 305.35 525.52 306.85 525.45 308.35 525.38 309.85 525.32 311.34 525.25 312.84 525.18 314.34 525.11 315.84 525.04 317.34 524.97 318.84 524.9 320.33 524.83 321.83 524.76 323.33 524.69 324.83 524.62 326.33 524.55 327.83 524.48 329.32 524.41 330.82 524.34 332.32 524.27 333.82 524.19 335.32 524.12 336.81 524.05 338.31 523.98 339.81 523.91 341.31 523.84 342.81 523.76 344.31 523.69 345.8 523.62 347.3 523.55 348.8 523.47 350.3 523.4 351.8 523.33 353.29 523.26 354.79 523.18 356.29 523.11 357.79 523.04 359.29 522.96 360.79 522.89 362.28 522.82 363.78 522.74 365.28 522.67 366.78 522.6 368.28 522.52 369.77 522.45 371.27 522.37 372.77 522.3 374.27 522.22 375.77 522.15 377.26 522.07 378.76 522 380.26 521.92 381.76 521.85 383.26 521.77 384.76 521.7 386.25 521.62 387.75 521.55 389.25 521.47 390.75 521.4 392.25 521.32 393.74 521.25 395.24 521.17 396.74 521.09 398.24 521.02 399.74 520.94 401.24 520.87 402.73 520.79 404.23 520.71 405.73 520.64 407.23 520.56 408.73 520.48 410.22 520.41 411.72 520.33 413.22 520.25 414.72 520.18 416.22 520.1 417.72 520.02 419.21 519.94 420.71 519.87 422.21 519.79 423.71 519.71 425.21 519.63 426.7 519.56 428.2 519.48 429.7 519.4 431.2 519.32 432.7 519.25 434.2 519.17 435.69 519.09 437.19 519.01 438.69 518.93 440.19 518.86 441.69 518.78 443.18 518.7 444.68 518.62 446.18 518.54 447.68 518.47 449.18 518.39 450.68 518.31 452.17 518.23 453.67 518.16 455.17 518.08 456.67 518.01 458.17 517.93 459.67 517.86 461.16 517.78 462.66 517.71 464.16 517.63 465.66 517.56 467.16 517.49 468.66 517.42 470.15 517.35 471.65 517.28 473.15 517.22 474.65 517.15 476.15 517.09 477.65 517.02 479.14 516.96 480.64 516.9 482.14 516.84 483.64 516.78 485.14 516.72 486.64 516.67 488.13 516.61 489.63 516.56 491.13 516.51 492.63 516.46 494.13 516.42 495.63 516.37 497.13 516.33 498.62 516.28 500.12 516.25 501.62 516.21 503.12 516.17 504.62 516.14 506.12 516.11 507.62 516.08 509.11 516.05 510.61 516.03 512.11 516.01 513.61 515.99 515.11 515.97 516.61 515.96 518.11 515.95 519.6 515.94 521.1 515.93 522.6 515.93 524.1 515.93 525.6 515.93 527.1 515.93 528.6 515.94 530.09 515.95 531.59 515.97 533.09 515.98 534.59 516 536.09 516.03 537.59 516.06 539.09 516.09 540.59 516.12 542.08 516.16 543.58 516.2 545.08 516.24 546.58 516.29 548.08 516.34 549.58 516.4 551.08 516.46 552.58 516.52 554.07 516.58 555.57 516.66 557.07 516.73 558.57 516.81 560.07 516.89 561.57 516.98 563.07 517.07 564.57 517.16 566.07 517.26 567.56 517.37 569.06 517.47 570.56 517.59 572.06 517.7 573.56 517.83 575.06 517.95 576.56 518.08 578.06 518.22 579.56 518.36 581.06 518.5 582.56 518.65 584.05 518.81 585.55 518.97 587.05 519.13 588.55 519.3 590.05 519.48 591.55 519.66 593.05 519.84 594.55 520.03 596.05 520.23 597.55 520.43 599.05 520.64 600.54 520.85 602.04 521.08 603.53 521.3 605.03 521.54 606.52 521.79 608.01 522.04 609.49 522.31 610.97 522.59 612.45 522.87 613.93 523.17 615.4 523.48 616.87 523.8 618.33 524.14 619.79 524.49 621.24 524.85 622.68 525.22 624.12 525.62 625.56 526.02 626.98 526.44 628.4 526.88 629.82 527.34 631.22 527.81 632.62 528.3 634.01 528.81 635.39 529.34 636.76 529.89 638.12 530.46 639.47 531.05 640.81 531.66 642.15 532.29 643.47 532.94 644.78 533.62 646.08 534.32 647.36 535.04 648.64 535.79 649.9 536.56 651.16 537.35 652.39 538.17 653.62 539.02 654.83 539.89 656.03 540.79 657.21 541.71 658.38 542.65 659.54 543.61 660.68 544.6 661.8 545.6 662.91 546.63 664 547.68 665.08 548.74 666.14 549.82 667.18 550.93 668.2 552.05 669.21 553.18 670.2 554.33 671.17 555.5 672.12 556.68 673.06 557.88 673.97 559.09 674.86 560.31 675.74 561.55 676.59 562.8 677.43 564.06 678.24 565.33 679.03 566.6 679.8 567.89 680.55 569.19 681.28 570.5 681.99 571.82 682.68 573.14 683.35 574.48 684 575.82 684.64 577.17 685.26 578.53 685.86 579.89 686.44 581.27 687.01 582.65 687.57 584.03 688.1 585.43 688.63 586.83 689.14 588.23 689.63 589.64 690.12 591.06 690.59 592.49 691.05 593.91 691.49 595.35 691.93 596.79 692.35 598.23 692.76 599.68 693.17 601.13 693.56 602.58 693.95 604.04 694.32 605.5 694.69 606.97 695.05 608.44 695.41 609.91 695.76 611.38 696.1 612.86 696.43 614.34 696.76 615.82 697.09 617.3 697.41 618.78 697.73 620.26 698.04 621.75 698.36 623.23 698.66 624.72 698.97 626.2 699.28 627.68 699.58 629.16 699.89 630.64 700.19 632.12 700.49 633.6 700.8 635.07 701.11 636.55 701.41 638.01 701.72 639.48 702.04 640.94 702.35 642.4 702.66 643.86 702.98 645.32 703.29 646.77 703.61 648.23 703.93 649.68 704.25 651.13 704.57 652.57 704.89 654.02 705.21 655.47 705.53 656.91 705.85 658.36 706.18 659.8 706.5 661.24 706.82 662.68 707.14 664.13 707.46 665.57 707.79 667.01 708.11 668.45 708.43 669.9 708.75 671.34 709.07 672.78 709.39 674.23 709.71 675.68 710.03 677.12 710.34 678.57 710.66 680.02 710.97 681.47 711.29 682.93 711.6 684.38 711.91 685.84 712.22 687.3 712.52 688.76 712.83 690.23 713.13 691.69 713.43 693.16 713.73 694.64 714.03 696.11 714.32 697.59 714.62 699.08 714.91 700.56 715.2 702.05 715.48 703.55 715.76 705.04 716.04 706.55 716.32 708.05 716.6 709.56 716.87 711.07 717.15 712.58 717.43 714.1 717.7 715.62 717.98 717.13 718.26 718.65 718.55 720.16 718.84 721.68 719.13 723.19 719.43 724.71 719.74 726.22 720.05 727.72 720.37 729.23 720.69 730.73 721.03 732.22 721.37 733.71 721.72 735.2 722.09 736.68 722.46 738.15 722.85 739.62 723.24 741.08 723.65 742.53 724.08 743.98 724.52 745.41 724.97 746.84 725.44 748.26 725.92 749.67 726.42 751.06 726.94 752.45 727.48 753.82 728.04 755.18 728.61 756.53 729.2 757.87 729.82 759.19 730.46 760.5 731.11 761.8 731.8 763.08 732.5 764.34 733.23 765.59 733.98 766.82 734.76 768.03 735.56 769.23 736.4 770.4 737.26 771.54 738.17 772.64 739.12 773.69 740.12 774.69 741.18 775.62 742.29 776.48 743.47 777.25 744.71 777.94 746.03 778.54 747.42 779.03 748.9 779.4 750.46 779.66 752.11 779.79 752.5 779.8" fill="none" stroke="#00f" stroke-width="1.45" stroke-linejoin="round"/>
<path d="M13.24 101.53 10.63 102.4 8.89 105.01 8.02 109.36 8.02 111.97 8.89 116.32 10.63 118.93 13.24 119.8 14.98 119.8 17.59 118.93 19.33 116.32 20.2 111.97 20.2 109.36 19.33 105.01 17.59 102.4 14.98 101.53 13.24 101.53M13.24 101.53 11.5 102.4 10.63 103.27 9.76 105.01 8.89 109.36 8.89 111.97 9.76 116.32 10.63 118.06 11.5 118.93 13.24 119.8M14.98 119.8 16.72 118.93 17.59 118.06 18.46 116.32 19.33 111.97 19.33 109.36 18.46 105.01 17.59 103.27 16.72 102.4 14.98 101.53M27.16 118.06 26.29 118.93 27.16 119.8 28.03 118.93 27.16 118.06M44.56 104.14 43.69 105.01 44.56 105.88 45.43 105.01 45.43 104.14 44.56 102.4 42.82 101.53 40.21 101.53 37.6 102.4 35.86 104.14 34.99 105.88 34.12 109.36 34.12 114.58 34.99 117.19 36.73 118.93 39.34 119.8 41.08 119.8 43.69 118.93 45.43 117.19 46.3 114.58 46.3 113.71 45.43 111.1 43.69 109.36 41.08 108.49 40.21 108.49 37.6 109.36 35.86 111.1 34.99 113.71M40.21 101.53 38.47 102.4 36.73 104.14 35.86 105.88 34.99 109.36 34.99 114.58 35.86 117.19 37.6 118.93 39.34 119.8M41.08 119.8 42.82 118.93 44.56 117.19 45.43 114.58 45.43 113.71 44.56 111.1 42.82 109.36 41.08 108.49M12.37 324.53 9.76 325.4 8.02 328.01 7.15 332.36 7.15 334.97 8.02 339.32 9.76 341.93 12.37 342.8 14.11 342.8 16.72 341.93 18.46 339.32 19.33 334.97 19.33 332.36 18.46 328.01 16.72 325.4 14.11 324.53 12.37 324.53M12.37 324.53 10.63 325.4 9.76 326.27 8.89 328.01 8.02 332.36 8.02 334.97 8.89 339.32 9.76 341.06 10.63 341.93 12.37 342.8M14.11 342.8 15.85 341.93 16.72 341.06 17.59 339.32 18.46 334.97 18.46 332.36 17.59 328.01 16.72 326.27 15.85 325.4 14.11 324.53M26.29 341.06 25.42 341.93 26.29 342.8 27.16 341.93 26.29 341.06M41.08 326.27 41.08 342.8M41.95 324.53 41.95 342.8M41.95 324.53 32.38 337.58 46.3 337.58M38.47 342.8 44.56 342.8M13.24 546.73 10.63 547.6 8.89 550.21 8.02 554.56 8.02 557.17 8.89 561.52 10.63 564.13 13.24 565 14.98 565 17.59 564.13 19.33 561.52 20.2 557.17 20.2 554.56 19.33 550.21 17.59 547.6 14.98 546.73 13.24 546.73M13.24 546.73 11.5 547.6 10.63 548.47 9.76 550.21 8.89 554.56 8.89 557.17 9.76 561.52 10.63 563.26 11.5 564.13 13.24 565M14.98 565 16.72 564.13 17.59 563.26 18.46 561.52 19.33 557.17 19.33 554.56 18.46 550.21 17.59 548.47 16.72 547.6 14.98 546.73M27.16 563.26 26.29 564.13 27.16 565 28.03 564.13 27.16 563.26M34.99 550.21 35.86 551.08 34.99 551.95 34.12 551.08 34.12 550.21 34.99 548.47 35.86 547.6 38.47 546.73 41.95 546.73 44.56 547.6 45.43 548.47 46.3 550.21 46.3 551.95 45.43 553.69 42.82 555.43 38.47 557.17 36.73 558.04 34.99 559.78 34.12 562.39 34.12 565M41.95 546.73 43.69 547.6 44.56 548.47 45.43 550.21 45.43 551.95 44.56 553.69 41.95 555.43 38.47 557.17M34.12 563.26 34.99 562.39 36.73 562.39 41.08 564.13 43.69 564.13 45.43 563.26 46.3 562.39M36.73 562.39 41.08 565 44.56 565 45.43 564.13 46.3 562.39 46.3 560.65M39.34 769.73 36.73 770.6 34.99 773.21 34.12 777.56 34.12 780.17 34.99 784.52 36.73 787.13 39.34 788 41.08 788 43.69 787.13 45.43 784.52 46.3 780.17 46.3 777.56 45.43 773.21 43.69 770.6 41.08 769.73 39.34 769.73M39.34 769.73 37.6 770.6 36.73 771.47 35.86 773.21 34.99 777.56 34.99 780.17 35.86 784.52 36.73 786.26 37.6 787.13 39.34 788M41.08 788 42.82 787.13 43.69 786.26 44.56 784.52 45.43 780.17 45.43 777.56 44.56 773.21 43.69 771.47 42.82 770.6 41.08 769.73M37.6 803.61 39.34 802.74 41.95 800.13 41.95 818.4M41.08 801 41.08 818.4M37.6 818.4 45.43 818.4M57.61 800.13 55 801 53.26 803.61 52.39 807.96 52.39 810.57 53.26 814.92 55 817.53 57.61 818.4 59.35 818.4 61.96 817.53 63.7 814.92 64.57 810.57 64.57 807.96 63.7 803.61 61.96 801 59.35 800.13 57.61 800.13M57.61 800.13 55.87 801 55 801.87 54.13 803.61 53.26 807.96 53.26 810.57 54.13 814.92 55 816.66 55.87 817.53 57.61 818.4M59.35 818.4 61.09 817.53 61.96 816.66 62.83 814.92 63.7 810.57 63.7 807.96 62.83 803.61 61.96 801.87 61.09 801 59.35 800.13M69.58 796.47 80.39 796.47M91.8 791.06 91.2 791.66 91.8 792.27 92.4 791.66 92.4 791.06 91.8 789.86 90.6 789.26 88.79 789.26 86.99 789.86 85.79 791.06 85.19 792.27 84.59 794.67 84.59 798.27 85.19 800.07 86.39 801.27 88.19 801.87 89.39 801.87 91.2 801.27 92.4 800.07 93 798.27 93 797.67 92.4 795.87 91.2 794.67 89.39 794.07 88.79 794.07 86.99 794.67 85.79 795.87 85.19 797.67M88.79 789.26 87.59 789.86 86.39 791.06 85.79 792.27 85.19 794.67 85.19 798.27 85.79 800.07 86.99 801.27 88.19 801.87M89.39 801.87 90.6 801.27 91.8 800.07 92.4 798.27 92.4 797.67 91.8 795.87 90.6 794.67 89.39 794.07M153.15 803.61 154.89 802.74 157.5 800.13 157.5 818.4M156.63 801 156.63 818.4M153.15 818.4 160.98 818.4M173.16 800.13 170.55 801 168.81 803.61 167.94 807.96 167.94 810.57 168.81 814.92 170.55 817.53 173.16 818.4 174.9 818.4 177.51 817.53 179.25 814.92 180.12 810.57 180.12 807.96 179.25 803.61 177.51 801 174.9 800.13 173.16 800.13M173.16 800.13 171.42 801 170.55 801.87 169.68 803.61 168.81 807.96 168.81 810.57 169.68 814.92 170.55 816.66 171.42 817.53 173.16 818.4M174.9 818.4 176.64 817.53 177.51 816.66 178.38 814.92 179.25 810.57 179.25 807.96 178.38 803.61 177.51 801.87 176.64 801 174.9 800.13M185.13 796.47 195.94 796.47M201.34 789.26 200.14 795.27M200.14 795.27 201.34 794.07 203.14 793.47 204.94 793.47 206.75 794.07 207.95 795.27 208.55 797.07 208.55 798.27 207.95 800.07 206.75 801.27 204.94 801.87 203.14 801.87 201.34 801.27 200.74 800.67 200.14 799.47 200.14 798.87 200.74 798.27 201.34 798.87 200.74 799.47M204.94 793.47 206.15 794.07 207.35 795.27 207.95 797.07 207.95 798.27 207.35 800.07 206.15 801.27 204.94 801.87M201.34 789.26 207.35 789.26M201.34 789.86 204.34 789.86 207.35 789.26M268.4 803.61 270.14 802.74 272.75 800.13 272.75 818.4M271.88 801 271.88 818.4M268.4 818.4 276.23 818.4M288.41 800.13 285.8 801 284.06 803.61 283.19 807.96 283.19 810.57 284.06 814.92 285.8 817.53 288.41 818.4 290.15 818.4 292.76 817.53 294.5 814.92 295.37 810.57 295.37 807.96 294.5 803.61 292.76 801 290.15 800.13 288.41 800.13M288.41 800.13 286.67 801 285.8 801.87 284.93 803.61 284.06 807.96 284.06 810.57 284.93 814.92 285.8 816.66 286.67 817.53 288.41 818.4M290.15 818.4 291.89 817.53 292.76 816.66 293.63 814.92 294.5 810.57 294.5 807.96 293.63 803.61 292.76 801.87 291.89 801 290.15 800.13M300.38 796.47 311.19 796.47M320.79 790.46 320.79 801.87M321.4 789.26 321.4 801.87M321.4 789.26 314.79 798.27 324.4 798.27M318.99 801.87 323.2 801.87M384.25 803.61 385.99 802.74 388.6 800.13 388.6 818.4M387.73 801 387.73 818.4M384.25 818.4 392.08 818.4M404.26 800.13 401.65 801 399.91 803.61 399.04 807.96 399.04 810.57 399.91 814.92 401.65 817.53 404.26 818.4 406 818.4 408.61 817.53 410.35 814.92 411.22 810.57 411.22 807.96 410.35 803.61 408.61 801 406 800.13 404.26 800.13M404.26 800.13 402.52 801 401.65 801.87 400.78 803.61 399.91 807.96 399.91 810.57 400.78 814.92 401.65 816.66 402.52 817.53 404.26 818.4M406 818.4 407.74 817.53 408.61 816.66 409.48 814.92 410.35 810.57 410.35 807.96 409.48 803.61 408.61 801.87 407.74 801 406 800.13M416.23 796.47 427.04 796.47M431.84 791.66 432.44 792.27 431.84 792.87 431.24 792.27 431.24 791.66 431.84 790.46 432.44 789.86 434.24 789.26 436.64 789.26 438.45 789.86 439.05 791.06 439.05 792.87 438.45 794.07 436.64 794.67 434.84 794.67M436.64 789.26 437.85 789.86 438.45 791.06 438.45 792.87 437.85 794.07 436.64 794.67M436.64 794.67 437.85 795.27 439.05 796.47 439.65 797.67 439.65 799.47 439.05 800.67 438.45 801.27 436.64 801.87 434.24 801.87 432.44 801.27 431.84 800.67 431.24 799.47 431.24 798.87 431.84 798.27 432.44 798.87 431.84 799.47M438.45 795.87 439.05 797.67 439.05 799.47 438.45 800.67 437.85 801.27 436.64 801.87M499.8 803.61 501.54 802.74 504.15 800.13 504.15 818.4M503.28 801 503.28 818.4M499.8 818.4 507.63 818.4M519.81 800.13 517.2 801 515.46 803.61 514.59 807.96 514.59 810.57 515.46 814.92 517.2 817.53 519.81 818.4 521.55 818.4 524.16 817.53 525.9 814.92 526.77 810.57 526.77 807.96 525.9 803.61 524.16 801 521.55 800.13 519.81 800.13M519.81 800.13 518.07 801 517.2 801.87 516.33 803.61 515.46 807.96 515.46 810.57 516.33 814.92 517.2 816.66 518.07 817.53 519.81 818.4M521.55 818.4 523.29 817.53 524.16 816.66 525.03 814.92 525.9 810.57 525.9 807.96 525.03 803.61 524.16 801.87 523.29 801 521.55 800.13M531.78 796.47 542.59 796.47M547.39 791.66 547.99 792.27 547.39 792.87 546.79 792.27 546.79 791.66 547.39 790.46 547.99 789.86 549.79 789.26 552.19 789.26 554 789.86 554.6 790.46 555.2 791.66 555.2 792.87 554.6 794.07 552.8 795.27 549.79 796.47 548.59 797.07 547.39 798.27 546.79 800.07 546.79 801.87M552.19 789.26 553.4 789.86 554 790.46 554.6 791.66 554.6 792.87 554 794.07 552.19 795.27 549.79 796.47M546.79 800.67 547.39 800.07 548.59 800.07 551.59 801.27 553.4 801.27 554.6 800.67 555.2 800.07M548.59 800.07 551.59 801.87 554 801.87 554.6 801.27 555.2 800.07 555.2 798.87M615.95 803.61 617.69 802.74 620.3 800.13 620.3 818.4M619.43 801 619.43 818.4M615.95 818.4 623.78 818.4M635.96 800.13 633.35 801 631.61 803.61 630.74 807.96 630.74 810.57 631.61 814.92 633.35 817.53 635.96 818.4 637.7 818.4 640.31 817.53 642.05 814.92 642.92 810.57 642.92 807.96 642.05 803.61 640.31 801 637.7 800.13 635.96 800.13M635.96 800.13 634.22 801 633.35 801.87 632.48 803.61 631.61 807.96 631.61 810.57 632.48 814.92 633.35 816.66 634.22 817.53 635.96 818.4M637.7 818.4 639.44 817.53 640.31 816.66 641.18 814.92 642.05 810.57 642.05 807.96 641.18 803.61 640.31 801.87 639.44 801 637.7 800.13M647.94 796.47 658.74 796.47M664.74 791.66 665.94 791.06 667.74 789.26 667.74 801.87M667.14 789.86 667.14 801.87M664.74 801.87 670.15 801.87M753.68 803.61 755.42 802.74 758.03 800.13 758.03 818.4M757.16 801 757.16 818.4M753.68 818.4 761.51 818.4M380.26 836.68 389.94 849M381.14 836.68 390.82 849M390.82 836.68 380.26 849M378.5 836.68 383.78 836.68M387.3 836.68 392.58 836.68M378.5 849 383.78 849M387.3 849 392.58 849M397.38 847.72 397.38 856.22M397.98 847.72 397.98 856.22M397.98 849.54 399.2 848.32 401.02 847.72 402.23 847.72 404.06 848.32 404.66 849.54 404.66 856.22M402.23 847.72 403.45 848.32 404.06 849.54 404.06 856.22M404.66 849.54 405.88 848.32 407.7 847.72 408.91 847.72 410.73 848.32 411.34 849.54 411.34 856.22M408.91 847.72 410.13 848.32 410.73 849.54 410.73 856.22M395.55 847.72 397.98 847.72M395.55 856.22 399.8 856.22M402.23 856.22 406.48 856.22M408.91 856.22 413.16 856.22M417.41 843.46 416.81 844.07 417.41 844.68 418.02 844.07 417.41 843.46M417.41 847.72 417.41 856.22M418.02 847.72 418.02 856.22M415.59 847.72 418.02 847.72M415.59 856.22 419.84 856.22M424.09 847.72 424.09 856.22M424.7 847.72 424.7 856.22M424.7 849.54 425.91 848.32 427.74 847.72 428.95 847.72 430.77 848.32 431.38 849.54 431.38 856.22M428.95 847.72 430.16 848.32 430.77 849.54 430.77 856.22M422.27 847.72 424.7 847.72M422.27 856.22 426.52 856.22M428.95 856.22 433.2 856.22" fill="none" stroke="#000" stroke-width="0.9" stroke-linecap="round" stroke-linejoin="round"/>
<path d="M102.76 164.31 100.51 165.06 99 166.56 98.25 168.07 97.5 171.08 97.5 173.33 98.25 176.34 99 177.84 100.51 179.35 102.76 180.1 104.27 180.1 106.52 179.35 108.03 177.84 108.78 176.34 109.53 173.33 109.53 171.08 108.78 168.07 108.03 166.56 106.52 165.06 104.27 164.31 102.76 164.31M102.76 164.31 101.26 165.06 99.76 166.56 99 168.07 98.25 171.08 98.25 173.33 99 176.34 99.76 177.84 101.26 179.35 102.76 180.1M104.27 180.1 105.77 179.35 107.28 177.84 108.03 176.34 108.78 173.33 108.78 171.08 108.03 168.07 107.28 166.56 105.77 165.06 104.27 164.31M100.51 178.6 100.51 177.84 101.26 176.34 102.76 175.59 103.52 175.59 105.02 176.34 105.77 177.84 106.52 183.11 107.28 183.86 108.78 183.86 109.53 182.36 109.53 181.6M105.77 177.84 106.52 180.85 107.28 182.36 108.03 183.11 108.78 183.11 109.53 182.36M112.98 156.98 113.52 157.52 112.98 158.07 112.43 157.52 112.43 156.98 112.98 155.9 113.52 155.36 115.14 154.82 117.31 154.82 118.93 155.36 119.47 155.9 120.01 156.98 120.01 158.07 119.47 159.15 117.85 160.23 115.14 161.32 114.06 161.86 112.98 162.94 112.43 164.56 112.43 166.19M117.31 154.82 118.39 155.36 118.93 155.9 119.47 156.98 119.47 158.07 118.93 159.15 117.31 160.23 115.14 161.32M112.43 165.11 112.98 164.56 114.06 164.56 116.77 165.65 118.39 165.65 119.47 165.11 120.01 164.56M114.06 164.56 116.77 166.19 118.93 166.19 119.47 165.65 120.01 164.56 120.01 163.48M136.38 171.08 149.91 171.08M136.38 175.59 149.91 175.59M169.47 167.32 170.97 166.56 173.23 164.31 173.23 180.1M172.47 165.06 172.47 180.1M169.47 180.1 176.23 180.1M186.76 164.31 184.51 165.06 183 167.32 182.25 171.08 182.25 173.33 183 177.09 184.51 179.35 186.76 180.1 188.27 180.1 190.52 179.35 192.03 177.09 192.78 173.33 192.78 171.08 192.03 167.32 190.52 165.06 188.27 164.31 186.76 164.31M186.76 164.31 185.26 165.06 184.51 165.81 183.75 167.32 183 171.08 183 173.33 183.75 177.09 184.51 178.6 185.26 179.35 186.76 180.1M188.27 180.1 189.77 179.35 190.52 178.6 191.27 177.09 192.03 173.33 192.03 171.08 191.27 167.32 190.52 165.81 189.77 165.06 188.27 164.31M201.8 164.31 199.55 165.06 198.04 167.32 197.29 171.08 197.29 173.33 198.04 177.09 199.55 179.35 201.8 180.1 203.31 180.1 205.56 179.35 207.07 177.09 207.82 173.33 207.82 171.08 207.07 167.32 205.56 165.06 203.31 164.31 201.8 164.31M201.8 164.31 200.3 165.06 199.55 165.81 198.79 167.32 198.04 171.08 198.04 173.33 198.79 177.09 199.55 178.6 200.3 179.35 201.8 180.1M203.31 180.1 204.81 179.35 205.56 178.6 206.31 177.09 207.07 173.33 207.07 171.08 206.31 167.32 205.56 165.81 204.81 165.06 203.31 164.31M216.84 164.31 214.59 165.06 213.08 167.32 212.33 171.08 212.33 173.33 213.08 177.09 214.59 179.35 216.84 180.1 218.35 180.1 220.6 179.35 222.11 177.09 222.86 173.33 222.86 171.08 222.11 167.32 220.6 165.06 218.35 164.31 216.84 164.31M216.84 164.31 215.34 165.06 214.59 165.81 213.83 167.32 213.08 171.08 213.08 173.33 213.83 177.09 214.59 178.6 215.34 179.35 216.84 180.1M218.35 180.1 219.85 179.35 220.6 178.6 221.35 177.09 222.11 173.33 222.11 171.08 221.35 167.32 220.6 165.81 219.85 165.06 218.35 164.31M249.07 166.56 249.82 168.82 249.82 164.31 249.07 166.56 247.56 165.06 245.31 164.31 243.8 164.31 241.55 165.06 240.04 166.56 239.29 168.07 238.54 170.32 238.54 174.08 239.29 176.34 240.04 177.84 241.55 179.35 243.8 180.1 245.31 180.1 247.56 179.35 249.07 177.84M243.8 164.31 242.3 165.06 240.79 166.56 240.04 168.07 239.29 170.32 239.29 174.08 240.04 176.34 240.79 177.84 242.3 179.35 243.8 180.1M249.07 174.08 249.07 180.1M249.82 174.08 249.82 180.1M246.81 174.08 252.07 174.08M256.59 174.08 265.61 174.08 265.61 172.58 264.86 171.08 264.11 170.32 262.6 169.57 260.35 169.57 258.09 170.32 256.59 171.83 255.83 174.08 255.83 175.59 256.59 177.84 258.09 179.35 260.35 180.1 261.85 180.1 264.11 179.35 265.61 177.84M264.86 174.08 264.86 171.83 264.11 170.32M260.35 169.57 258.84 170.32 257.34 171.83 256.59 174.08 256.59 175.59 257.34 177.84 258.84 179.35 260.35 180.1M269.12 164.31 274.39 180.1M269.87 164.31 274.39 177.84M279.65 164.31 274.39 180.1M267.62 164.31 272.13 164.31M276.64 164.31 281.15 164.31M284.09 156.98 284.64 157.52 284.09 158.07 283.55 157.52 283.55 156.98 284.09 155.9 284.64 155.36 286.26 154.82 288.43 154.82 290.05 155.36 290.59 155.9 291.13 156.98 291.13 158.07 290.59 159.15 288.97 160.23 286.26 161.32 285.18 161.86 284.09 162.94 283.55 164.56 283.55 166.19M288.43 154.82 289.51 155.36 290.05 155.9 290.59 156.98 290.59 158.07 290.05 159.15 288.43 160.23 286.26 161.32M283.55 165.11 284.09 164.56 285.18 164.56 287.88 165.65 289.51 165.65 290.59 165.11 291.13 164.56M285.18 164.56 287.88 166.19 290.05 166.19 290.59 165.65 291.13 164.56 291.13 163.48M170 297.22 171.5 296.46 173.76 294.21 173.76 310M173.01 294.96 173.01 310M170 310 176.77 310M187.3 294.21 185.04 294.96 183.54 297.22 182.78 300.98 182.78 303.23 183.54 306.99 185.04 309.25 187.3 310 188.8 310 191.06 309.25 192.56 306.99 193.31 303.23 193.31 300.98 192.56 297.22 191.06 294.96 188.8 294.21 187.3 294.21M187.3 294.21 185.79 294.96 185.04 295.71 184.29 297.22 183.54 300.98 183.54 303.23 184.29 306.99 185.04 308.5 185.79 309.25 187.3 310M188.8 310 190.3 309.25 191.06 308.5 191.81 306.99 192.56 303.23 192.56 300.98 191.81 297.22 191.06 295.71 190.3 294.96 188.8 294.21M202.34 294.21 200.08 294.96 198.58 297.22 197.82 300.98 197.82 303.23 198.58 306.99 200.08 309.25 202.34 310 203.84 310 206.1 309.25 207.6 306.99 208.35 303.23 208.35 300.98 207.6 297.22 206.1 294.96 203.84 294.21 202.34 294.21M202.34 294.21 200.83 294.96 200.08 295.71 199.33 297.22 198.58 300.98 198.58 303.23 199.33 306.99 200.08 308.5 200.83 309.25 202.34 310M203.84 310 205.34 309.25 206.1 308.5 206.85 306.99 207.6 303.23 207.6 300.98 206.85 297.22 206.1 295.71 205.34 294.96 203.84 294.21M171.7 405.52 173.2 404.76 175.46 402.51 175.46 418.3M174.71 403.26 174.71 418.3M171.7 418.3 178.47 418.3M189 402.51 186.74 403.26 185.24 405.52 184.48 409.28 184.48 411.53 185.24 415.29 186.74 417.55 189 418.3 190.5 418.3 192.76 417.55 194.26 415.29 195.01 411.53 195.01 409.28 194.26 405.52 192.76 403.26 190.5 402.51 189 402.51M189 402.51 187.49 403.26 186.74 404.01 185.99 405.52 185.24 409.28 185.24 411.53 185.99 415.29 186.74 416.8 187.49 417.55 189 418.3M190.5 418.3 192 417.55 192.76 416.8 193.51 415.29 194.26 411.53 194.26 409.28 193.51 405.52 192.76 404.01 192 403.26 190.5 402.51M187.6 579.22 189.1 578.46 191.36 576.21 191.36 592M190.61 576.96 190.61 592M187.6 592 194.37 592M0.34 219.62 1.85 218.86 4.1 216.61 4.1 232.4M3.35 217.36 3.35 232.4M0.34 232.4 7.11 232.4M25.91 213.6 12.38 237.66M30.42 219.62 31.18 220.37 30.42 221.12 29.67 220.37 29.67 219.62 30.42 218.11 31.18 217.36 33.43 216.61 36.44 216.61 38.7 217.36 39.45 218.11 40.2 219.62 40.2 221.12 39.45 222.62 37.19 224.13 33.43 225.63 31.93 226.38 30.42 227.89 29.67 230.14 29.67 232.4M36.44 216.61 37.94 217.36 38.7 218.11 39.45 219.62 39.45 221.12 38.7 222.62 36.44 224.13 33.43 225.63M29.67 230.9 30.42 230.14 31.93 230.14 35.69 231.65 37.94 231.65 39.45 230.9 40.2 230.14M31.93 230.14 35.69 232.4 38.7 232.4 39.45 231.65 40.2 230.14 40.2 228.64" fill="none" stroke="#f00" stroke-width="1.5" stroke-linecap="round" stroke-linejoin="round"/>
<path d="M431.41 74.7 429.91 76.2 428.41 78.46 426.9 81.47 426.15 85.23 426.15 88.24 426.9 92 428.41 95 429.91 97.26 431.41 98.76M429.91 76.2 428.41 79.21 427.65 81.47 426.9 85.23 426.9 88.24 427.65 92 428.41 94.25 429.91 97.26M440.59 77.71 434.57 93.5M440.59 77.71 446.6 93.5M440.59 79.96 445.85 93.5M435.32 92.75 445.85 92.75M434.57 93.5 446.6 93.5M450.36 77.71 455.63 85.23 449.61 93.5M449.61 77.71 454.88 85.23M449.61 77.71 460.89 77.71 461.64 82.22 460.14 77.71M450.36 92.75 460.14 92.75M449.61 93.5 460.89 93.5 461.64 88.99 460.14 93.5M478.94 74.7 465.4 98.76M483.08 80.72 483.83 81.47 483.08 82.22 482.32 81.47 482.32 80.72 483.08 79.21 483.83 78.46 486.08 77.71 489.09 77.71 491.35 78.46 492.1 79.21 492.85 80.72 492.85 82.22 492.1 83.72 489.84 85.23 486.08 86.73 484.58 87.48 483.08 88.99 482.32 91.24 482.32 93.5M489.09 77.71 490.6 78.46 491.35 79.21 492.1 80.72 492.1 82.22 491.35 83.72 489.09 85.23 486.08 86.73M482.32 92 483.08 91.24 484.58 91.24 488.34 92.75 490.6 92.75 492.1 92 492.85 91.24M484.58 91.24 488.34 93.5 491.35 93.5 492.1 92.75 492.85 91.24 492.85 89.74M516.16 79.96 516.16 93.5M509.4 86.73 522.93 86.73M533.46 77.71 527.44 93.5M533.46 77.71 539.48 93.5M533.46 79.96 538.72 93.5M528.2 92.75 538.72 92.75M527.44 93.5 539.48 93.5M553.76 79.96 554.52 82.22 554.52 77.71 553.76 79.96 552.26 78.46 550 77.71 548.5 77.71 546.24 78.46 544.74 79.96 543.99 81.47 543.24 83.72 543.24 87.48 543.99 89.74 544.74 91.24 546.24 92.75 548.5 93.5 550 93.5 552.26 92.75 553.76 91.24M548.5 77.71 547 78.46 545.49 79.96 544.74 81.47 543.99 83.72 543.99 87.48 544.74 89.74 545.49 91.24 547 92.75 548.5 93.5M553.76 87.48 553.76 93.5M554.52 87.48 554.52 93.5M551.51 87.48 556.77 87.48M559.78 74.7 561.28 76.2 562.79 78.46 564.29 81.47 565.04 85.23 565.04 88.24 564.29 92 562.79 95 561.28 97.26 559.78 98.76M561.28 76.2 562.79 79.21 563.54 81.47 564.29 85.23 564.29 88.24 563.54 92 562.79 94.25 561.28 97.26M571.81 74.7 571.81 98.76M572.56 74.7 572.56 98.76M571.81 74.7 577.08 74.7M571.81 98.76 577.08 98.76M587.15 77.71 584.9 78.46 583.39 79.96 582.64 81.47 581.89 84.48 581.89 86.73 582.64 89.74 583.39 91.24 584.9 92.75 587.15 93.5 588.66 93.5 590.91 92.75 592.42 91.24 593.17 89.74 593.92 86.73 593.92 84.48 593.17 81.47 592.42 79.96 590.91 78.46 588.66 77.71 587.15 77.71M587.15 77.71 585.65 78.46 584.15 79.96 583.39 81.47 582.64 84.48 582.64 86.73 583.39 89.74 584.15 91.24 585.65 92.75 587.15 93.5M588.66 93.5 590.16 92.75 591.67 91.24 592.42 89.74 593.17 86.73 593.17 84.48 592.42 81.47 591.67 79.96 590.16 78.46 588.66 77.71M584.9 92 584.9 91.24 585.65 89.74 587.15 88.99 587.91 88.99 589.41 89.74 590.16 91.24 590.91 96.51 591.67 97.26 593.17 97.26 593.92 95.76 593.92 95M590.16 91.24 590.91 94.25 591.67 95.76 592.42 96.51 593.17 96.51 593.92 95.76M597.4 71.08 597.94 71.63 597.4 72.18 596.85 71.63 596.85 71.08 597.4 69.98 597.94 69.44 599.59 68.89 601.79 68.89 603.43 69.44 603.98 69.98 604.53 71.08 604.53 72.18 603.98 73.28 602.34 74.38 599.59 75.47 598.49 76.02 597.4 77.12 596.85 78.77 596.85 80.42M601.79 68.89 602.89 69.44 603.43 69.98 603.98 71.08 603.98 72.18 603.43 73.28 601.79 74.38 599.59 75.47M596.85 79.32 597.4 78.77 598.49 78.77 601.24 79.87 602.89 79.87 603.98 79.32 604.53 78.77M598.49 78.77 601.24 80.42 603.43 80.42 603.98 79.87 604.53 78.77 604.53 77.67M609.49 93.5 608.74 92.75 609.49 92 610.24 92.75 610.24 94.25 609.49 95.76 608.74 96.51M616.26 82.97 624.53 93.5M617.01 82.97 625.28 93.5M625.28 82.97 616.26 93.5M614.75 82.97 619.26 82.97M622.27 82.97 626.78 82.97M614.75 93.5 619.26 93.5M622.27 93.5 626.78 93.5M635.06 74.7 635.06 98.76M635.81 74.7 635.81 98.76M630.54 74.7 635.81 74.7M630.54 98.76 635.81 98.76M662.13 77.71 662.13 93.5M662.88 77.71 662.88 93.5M662.13 85.23 660.62 83.72 659.12 82.97 657.62 82.97 655.36 83.72 653.86 85.23 653.1 87.48 653.1 88.99 653.86 91.24 655.36 92.75 657.62 93.5 659.12 93.5 660.62 92.75 662.13 91.24M657.62 82.97 656.11 83.72 654.61 85.23 653.86 87.48 653.86 88.99 654.61 91.24 656.11 92.75 657.62 93.5M659.87 77.71 662.88 77.71M662.13 93.5 665.14 93.5M669.65 82.97 677.92 93.5M670.4 82.97 678.67 93.5M678.67 82.97 669.65 93.5M668.14 82.97 672.66 82.97M675.66 82.97 680.18 82.97M668.14 93.5 672.66 93.5M675.66 93.5 680.18 93.5" fill="none" stroke="#000" stroke-width="1.5" stroke-linecap="round" stroke-linejoin="round"/>
<path d="M420.2 61.4C420.7 59.2 419.2 57.4 417.3 57.6C415.2 57.8 414.1 60.2 413.7 63.6L411.1 106C410.8 110.5 409.6 114.9 406.7 115.2C404.9 115.4 403.7 114.4 404 112.8" fill="none" stroke="#000" stroke-width="1.9" stroke-linecap="round" stroke-linejoin="round"/>
<circle cx="420.2" cy="61.2" r="1.6" fill="#000"/><circle cx="404" cy="112.9" r="1.6" fill="#000"/>
<path d="M430.6 40.55 431.5 40.1 432.85 38.75 432.85 48.2M432.4 39.2 432.4 48.2M430.6 48.2 434.65 48.2M418 127.4 424.05 135.1M418.55 127.4 424.6 135.1M424.6 127.4 418 135.1M416.9 127.4 420.2 127.4M422.4 127.4 425.7 127.4M416.9 135.1 420.2 135.1M422.4 135.1 425.7 135.1M427.18 134.84 427.18 139.61M427.53 134.84 427.53 139.61M427.53 135.86 428.21 135.18 429.23 134.84 429.91 134.84 430.94 135.18 431.28 135.86 431.28 139.61M429.91 134.84 430.59 135.18 430.94 135.86 430.94 139.61M431.28 135.86 431.96 135.18 432.98 134.84 433.66 134.84 434.69 135.18 435.03 135.86 435.03 139.61M433.66 134.84 434.35 135.18 434.69 135.86 434.69 139.61M426.16 134.84 427.53 134.84M426.16 139.61 428.55 139.61M429.91 139.61 432.3 139.61M433.66 139.61 436.05 139.61M438.44 132.45 438.1 132.79 438.44 133.13 438.78 132.79 438.44 132.45M438.44 134.84 438.44 139.61M438.78 134.84 438.78 139.61M437.41 134.84 438.78 134.84M437.41 139.61 439.8 139.61M442.19 134.84 442.19 139.61M442.53 134.84 442.53 139.61M442.53 135.86 443.21 135.18 444.23 134.84 444.92 134.84 445.94 135.18 446.28 135.86 446.28 139.61M444.92 134.84 445.6 135.18 445.94 135.86 445.94 139.61M441.17 134.84 442.53 134.84M441.17 139.61 443.55 139.61M444.92 139.61 447.3 139.61" fill="none" stroke="#000" stroke-width="1.45" stroke-linecap="round" stroke-linejoin="round"/>
<path d="M27.16 118.06 26.29 118.93 27.16 119.8 28.03 118.93 27.16 118.06ZM26.29 341.06 25.42 341.93 26.29 342.8 27.16 341.93 26.29 341.06ZM27.16 563.26 26.29 564.13 27.16 565 28.03 564.13 27.16 563.26ZM417.41 843.46 416.81 844.07 417.41 844.68 418.02 844.07 417.41 843.46ZM438.44 132.45 438.1 132.79 438.44 133.13 438.78 132.79 438.44 132.45Z" fill="#000" stroke="none"/>
</svg></body></html>
